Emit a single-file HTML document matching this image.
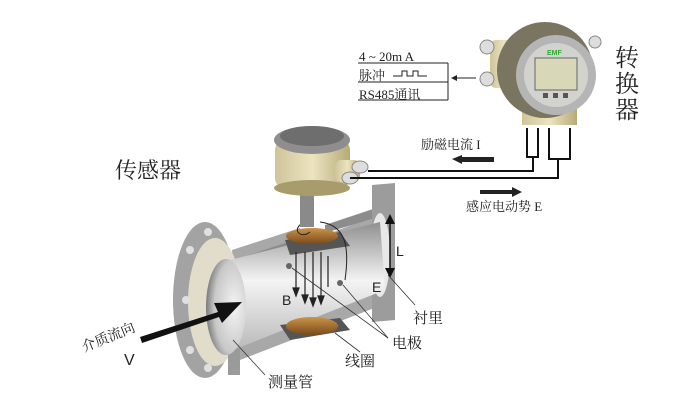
<!DOCTYPE html>
<html><head><meta charset="utf-8"><style>
html,body{margin:0;padding:0;background:#fff;width:681px;height:417px;overflow:hidden}
svg{display:block}
text{font-family:"Liberation Serif","Noto Serif CJK SC","Noto Sans CJK SC",serif;fill:#222}
.s{font-family:"Liberation Sans","Noto Sans CJK SC",sans-serif}
</style></head><body>
<svg width="681" height="417" viewBox="0 0 681 417" xmlns="http://www.w3.org/2000/svg">
<defs>
<linearGradient id="tube" x1="0" y1="0" x2="0" y2="1"><stop offset="0" stop-color="#8f8f8f"/><stop offset="0.45" stop-color="#f4f4f4"/><stop offset="1" stop-color="#b8b8b8"/></linearGradient>
<linearGradient id="brass" x1="0" y1="0" x2="1" y2="0"><stop offset="0" stop-color="#cfc49a"/><stop offset="0.5" stop-color="#ece4c0"/><stop offset="1" stop-color="#b7aa78"/></linearGradient>
<linearGradient id="coil" x1="0" y1="0" x2="0" y2="1"><stop offset="0" stop-color="#c9944a"/><stop offset="1" stop-color="#7a4a1a"/></linearGradient>
<radialGradient id="bore" cx="0.7" cy="0.5" r="0.7"><stop offset="0" stop-color="#f4f4f4"/><stop offset="0.7" stop-color="#c8c8c8"/><stop offset="1" stop-color="#7a7a7a"/></radialGradient>
</defs>
<!-- pipe body outer (grey cut-away) -->
<polygon points="232,250 300,228 300,245 390,210 395,300 240,360" fill="#a8a8a8"/>
<polygon points="240,258 300,238 300,250 240,268" fill="#8c8c8c"/>
<polygon points="325,225 385,205 385,215 325,233" fill="#8c8c8c"/>
<!-- right flange -->
<polygon points="372,185 395,183 395,320 372,322" fill="#9c9c9c"/>
<ellipse cx="380" cy="255" rx="10" ry="42" fill="#e8e8e8"/>
<!-- left flange -->
<ellipse cx="205" cy="300" rx="32" ry="78" fill="#a3a3a3"/>
<ellipse cx="215" cy="302" rx="27" ry="64" fill="#e2dccb"/>
<circle cx="190" cy="250" r="4" fill="#e0e0e0"/><circle cx="186" cy="300" r="4" fill="#e0e0e0"/><circle cx="190" cy="350" r="4" fill="#e0e0e0"/><circle cx="208" cy="232" r="4" fill="#e0e0e0"/><circle cx="208" cy="368" r="4" fill="#e0e0e0"/>
<rect x="228" y="330" width="12" height="45" fill="#9a9a9a"/>
<!-- tube lining -->
<polygon points="222,262 380,222 385,290 228,352" fill="url(#tube)"/>
<ellipse cx="226" cy="307" rx="20" ry="48" fill="url(#bore)"/>
<!-- coils -->
<polygon points="285,240 340,232 350,246 290,255" fill="#555"/>
<ellipse cx="312" cy="236" rx="26" ry="8" fill="url(#coil)"/>
<polygon points="280,325 340,318 350,330 290,340" fill="#555"/>
<ellipse cx="312" cy="326" rx="26" ry="9" fill="url(#coil)"/>
<!-- flux lines -->
<g stroke="#222" stroke-width="1.2" fill="#222">
<line x1="296" y1="252" x2="296" y2="290"/><polygon points="293,288 299,288 296,296"/>
<line x1="305" y1="252" x2="305" y2="297"/><polygon points="302,295 308,295 305,303"/>
<line x1="313" y1="252" x2="313" y2="300"/><polygon points="310,298 316,298 313,306"/>
<line x1="321" y1="252" x2="321" y2="298"/><polygon points="318,296 324,296 321,304"/>
<line x1="328" y1="256" x2="328" y2="287"/>
</g>
<circle cx="289" cy="266" r="3" fill="#666"/><circle cx="340" cy="283" r="3" fill="#666"/>
<path d="M305,222 C290,228 300,240 310,232 M320,222 C345,225 350,245 345,280" stroke="#222" fill="none"/>
<!-- stem -->
<rect x="300" y="195" width="14" height="32" fill="#8a8a8a"/>
<!-- sensor head -->
<rect x="275" y="140" width="75" height="48" rx="10" fill="url(#brass)"/>
<ellipse cx="312" cy="188" rx="38" ry="8" fill="#a89c6c"/>
<ellipse cx="312" cy="140" rx="38" ry="14" fill="#8e8e8e"/>
<ellipse cx="312" cy="136" rx="32" ry="10" fill="#6e6e6e"/>
<rect x="335" y="160" width="25" height="22" rx="6" fill="url(#brass)"/>
<ellipse cx="360" cy="167" rx="8" ry="6" fill="#ddd" stroke="#888"/>
<ellipse cx="350" cy="178" rx="8" ry="6" fill="#ddd" stroke="#888"/>
<!-- wires -->
<g stroke="#111" stroke-width="2" fill="none">
<polyline points="368,171 533,171 533,158"/>
<polyline points="350,178 558,178 558,160"/>
<polyline points="527,128 527,157 538,157 538,128"/>
<polyline points="549,128 549,159 570,159 570,128"/>
</g>
<!-- converter -->
<rect x="490" y="40" width="28" height="48" rx="6" fill="url(#brass)"/>
<circle cx="487" cy="47" r="7" fill="#ddd" stroke="#888"/><circle cx="487" cy="79" r="7" fill="#ddd" stroke="#888"/>
<circle cx="595" cy="42" r="6" fill="#ddd" stroke="#888"/>
<rect x="522" y="95" width="55" height="30" fill="url(#brass)"/>
<ellipse cx="545" cy="70" rx="48" ry="48" fill="#7a7560"/>
<circle cx="556" cy="75" r="40" fill="#b5b5b5"/>
<circle cx="556" cy="75" r="32" fill="#d2d2cf"/>
<rect x="535" y="58" width="42" height="32" fill="#d8d8b8" stroke="#666"/>
<text x="547" y="55" class="s" font-size="7" font-weight="bold" style="fill:#3a3">EMF</text>
<rect x="543" y="93" width="5" height="5" fill="#555"/><rect x="553" y="93" width="5" height="5" fill="#555"/><rect x="563" y="93" width="5" height="5" fill="#555"/>
<!-- output box -->
<g stroke="#222" stroke-width="1" fill="none">
<line x1="358" y1="63" x2="448" y2="63"/><line x1="358" y1="82" x2="448" y2="82"/><line x1="358" y1="100" x2="448" y2="100"/><line x1="448" y1="63" x2="448" y2="100"/>
<line x1="453" y1="78" x2="476" y2="78"/>
<polyline points="393,76 402,76 402,71 407,71 407,76 413,76 413,71 418,71 418,76 427,76"/>
</g>
<polygon points="451,78 457,75 457,81" fill="#222"/>
<text x="359" y="61" font-size="13">4 ~ 20m A</text>
<text x="359" y="80" font-size="13">脉冲</text>
<text x="359" y="99" font-size="13">RS485通讯</text>
<text x="615" y="66" font-size="24">转</text>
<text x="615" y="92" font-size="24">换</text>
<text x="615" y="118" font-size="24">器</text>
<text x="421" y="149" font-size="13">励磁电流 I</text>
<polygon points="452,159 462,155 462,157 494,157 494,162 462,162 462,164" fill="#222"/>
<polygon points="480,190 512,190 512,187 522,192 512,197 512,194 480,194" fill="#222"/>
<text x="466" y="211" font-size="13">感应电动势 E</text>
<text x="115" y="178" font-size="22">传感器</text>
<!-- L arrow -->
<line x1="390" y1="222" x2="390" y2="270" stroke="#111" stroke-width="1.5"/>
<polygon points="385,224 395,224 390,214" fill="#111"/><polygon points="385,268 395,268 390,278" fill="#111"/>
<text x="396" y="256" class="s" font-size="14">L</text>
<text x="372" y="292" class="s" font-size="14">E</text>
<text x="282" y="305" class="s" font-size="14">B</text>
<!-- leaders -->
<g stroke="#333" stroke-width="0.8">
<line x1="388" y1="275" x2="415" y2="305"/>
<line x1="292" y1="268" x2="388" y2="338"/><line x1="343" y1="285" x2="388" y2="338"/>
<line x1="335" y1="333" x2="360" y2="352"/>
<line x1="233" y1="340" x2="265" y2="375"/>
</g>
<text x="413" y="323" font-size="15">衬里</text>
<text x="392" y="348" font-size="15">电极</text>
<text x="345" y="366" font-size="15">线圈</text>
<text x="268" y="387" font-size="15">测量管</text>
<!-- flow arrow -->
<polygon points="140,337 218,312 214,303 242,302 222,323 219,317 142,343" fill="#111"/>
<text x="0" y="0" font-size="14" transform="translate(84,352) rotate(-22)">介质流向</text>
<text x="124" y="365" class="s" font-size="16">V</text>
</svg>
</body></html>
